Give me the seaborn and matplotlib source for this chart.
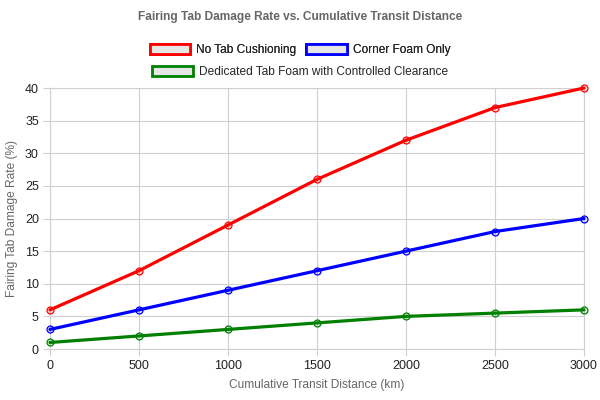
import matplotlib
matplotlib.use("Agg")
import matplotlib.pyplot as plt
from matplotlib.patches import Patch
import matplotlib.colors as mcolors
import seaborn as sns
import pandas as pd

distance_km = [0, 500, 1000, 1500, 2000, 2500, 3000]
series_names = ["No Tab Cushioning", "Corner Foam Only", "Dedicated Tab Foam with Controlled Clearance"]
no_tab = [6, 12, 19, 26, 32, 37, 40]
corner_foam = [3, 6, 9, 12, 15, 18, 20]
dedicated_foam = [1, 2, 3, 4, 5, 5.5, 6]
colors = ["#ff0000", "#0000ff", "#008000"]

sns.set_theme(style="white")
plt.rcParams['font.family'] = ['Liberation Sans', 'DejaVu Sans']

fig = plt.figure(figsize=(6, 4), dpi=100)
ax = fig.add_axes([50/600, 1-349/400, 534/600, 261/400])

grid_c = "#d0d0d0"
for name, vals, c in zip(series_names, [no_tab, corner_foam, dedicated_foam], colors):
    df = pd.DataFrame({"x": distance_km, "y": vals})
    rgba = mcolors.to_rgba(c, 0.12)
    sns.lineplot(data=df, x="x", y="y", ax=ax, color=c, linewidth=2.3,
                 marker="o", markersize=5, markeredgewidth=0.9,
                 markeredgecolor=c, markerfacecolor=rgba, zorder=3, clip_on=False)

ax.set_xlim(0, 3000)
ax.set_ylim(0, 40)
ax.set_xticks(distance_km)
ax.set_yticks(range(0, 41, 5))
ax.grid(True, color=grid_c, linewidth=0.8)
for s in ax.spines.values():
    s.set_color(grid_c)
    s.set_linewidth(0.8)
ax.tick_params(axis="both", length=5, width=0.8, color=grid_c, labelsize=9, labelcolor="#222222", pad=3)
ax.tick_params(axis="both", which="both", bottom=True, left=True)
ax.set_xlabel("Cumulative Transit Distance (km)", fontsize=8.6, color="#666666", labelpad=5)
ax.set_ylabel("Fairing Tab Damage Rate (%)", fontsize=8.6, color="#666666", labelpad=5)

fig.text(0.5, 1-17/400, "Fairing Tab Damage Rate vs. Cumulative Transit Distance",
         ha="center", va="center", fontsize=8.6, fontweight="bold", color="#666666")

handles = [Patch(facecolor="#e6e6e6", edgecolor=c, linewidth=2) for c in colors]
leg1 = fig.legend(handles[:2], series_names[:2], loc="center", bbox_to_anchor=(0.5, 1-50/400),
                  ncol=2, frameon=False, fontsize=8.6, handlelength=3.4, handleheight=1.0,
                  handletextpad=0.5, columnspacing=0.8, borderpad=0)
fig.add_artist(leg1)
leg2 = fig.legend(handles[2:], series_names[2:], loc="center", bbox_to_anchor=(0.5, 1-72/400),
                  ncol=1, frameon=False, fontsize=8.6, handlelength=3.4, handleheight=1.0,
                  handletextpad=0.5, borderpad=0)

fig.savefig("out.png", dpi=100)
